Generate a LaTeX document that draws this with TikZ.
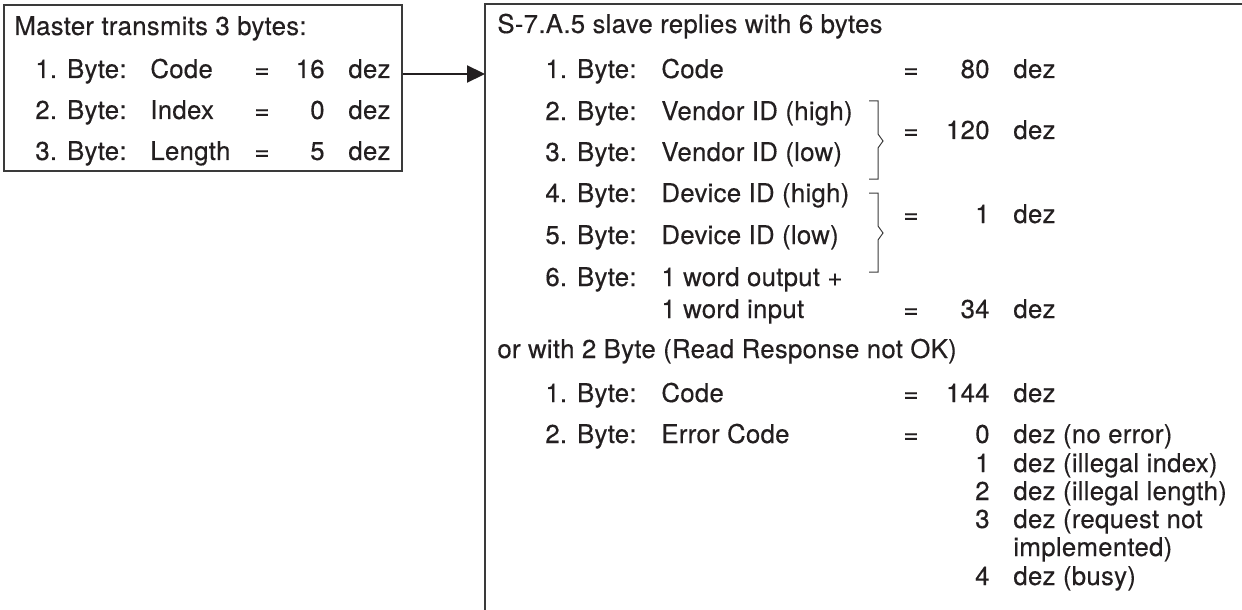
\documentclass[tikz,border=0pt]{standalone}
\usepackage{fontspec}
\setmainfont{TeX Gyre Heros}[LetterSpace=1, FakeBold=0.3]
\usetikzlibrary{arrows.meta}
\definecolor{asiink}{HTML}{231F20}
\definecolor{asiline}{HTML}{3A3A3A}

\tikzset{
  lbl/.style={anchor=base west, inner sep=0pt, text=asiink},
  val/.style={anchor=base east, inner sep=0pt, text=asiink},
  eq/.style={anchor=base, inner sep=0pt, text=asiink},
  frame/.style={draw=asiline, line width=0.8pt},
  brak/.style={draw=asiline, line width=0.5pt},
  arr/.style={draw=asiink, line width=1.1pt, -{Triangle[length=9pt,width=8.5pt]}}
}

\begin{document}
\begin{tikzpicture}[x=0.5pt, y=-0.5pt, font=\fontsize{12.9pt}{14pt}\selectfont]
  \useasboundingbox (0,0) rectangle (1242,610);

  % master request
  \node[frame, anchor=north west, minimum width=199pt, minimum height=83pt, inner sep=0pt] (master) at (3,4) {};
  \node[lbl] (mtitle) at (14,35) {Master transmits 3 bytes:};
  \foreach \n/\f/\v/\y in {1/Code/16/78, 2/Index/0/119, 3/Length/5/160} {
    \node[lbl] (mbyte\n) at (35,\y) {\n. Byte:};
    \node[lbl] (mfield\n) at (150,\y) {\f};
    \node[eq] (meq\n) at (262,\y) {=};
    \node[val] (mval\n) at (325,\y) {\v};
    \node[lbl] (mdez\n) at (348,\y) {dez};
  }

  % slave reply
  \draw[frame] (1250,4) -- (485,4) -- (485,620);
  \coordinate (slavein) at (485,74);
  \draw[arr] (master.east |- slavein) -- (slavein);

  \node[lbl] (stitle) at (497,33) {S-7.A.5 slave replies with 6 bytes};
  \foreach \n/\f/\y in {1/Code/78, 2/Vendor ID (high)/120, 3/Vendor ID (low)/161,
                        4/Device ID (high)/202, 5/Device ID (low)/244, 6/1 word output +/286} {
    \node[lbl] (sbyte\n) at (545,\y) {\n. Byte:};
    \node[lbl] (sfield\n) at (661,\y) {\f};
  }
  \node[lbl] (sfield6b) at (661,318) {1 word input};
  \foreach \k/\v/\y in {code/80/78, vendor/120/139, device/1/223, io/34/318} {
    \node[eq] (seq\k) at (911,\y) {=};
    \node[val] (sval\k) at (990,\y) {\v};
    \node[lbl] (sdez\k) at (1013,\y) {dez};
  }

  % brackets
  \draw[brak] (869,101) -- (878,101) -- (878,134) -- (883,141) -- (878,148) -- (878,179) -- (869,179);
  \draw[brak] (869,193) -- (878,193) -- (878,226) -- (883,233) -- (878,240) -- (878,272) -- (869,272);

  % error reply
  \node[lbl] (etitle) at (497,358) {or with 2 Byte (Read Response not OK)};
  \node[lbl] (ebyte1) at (545,402) {1. Byte:};
  \node[lbl] (efield1) at (661,402) {Code};
  \node[eq] (eeq1) at (911,402) {=};
  \node[val] (eval1) at (990,402) {144};
  \node[lbl] (edez1) at (1013,402) {dez};
  \node[lbl] (ebyte2) at (545,443) {2. Byte:};
  \node[lbl] (efield2) at (661,443) {Error Code};
  \node[eq] (eeq2) at (911,443) {=};
  \foreach \v/\t/\y in {0/dez (no error)/443, 1/dez (illegal index)/472, 2/dez (illegal length)/500,
                        3/dez (request not/528, 4/dez (busy)/585} {
    \node[val] (errval\v) at (990,\y) {\v};
    \node[lbl] (errtxt\v) at (1013,\y) {\t};
  }
  \node[lbl] (errtxt3b) at (1013,556) {implemented)};
\end{tikzpicture}
\end{document}
